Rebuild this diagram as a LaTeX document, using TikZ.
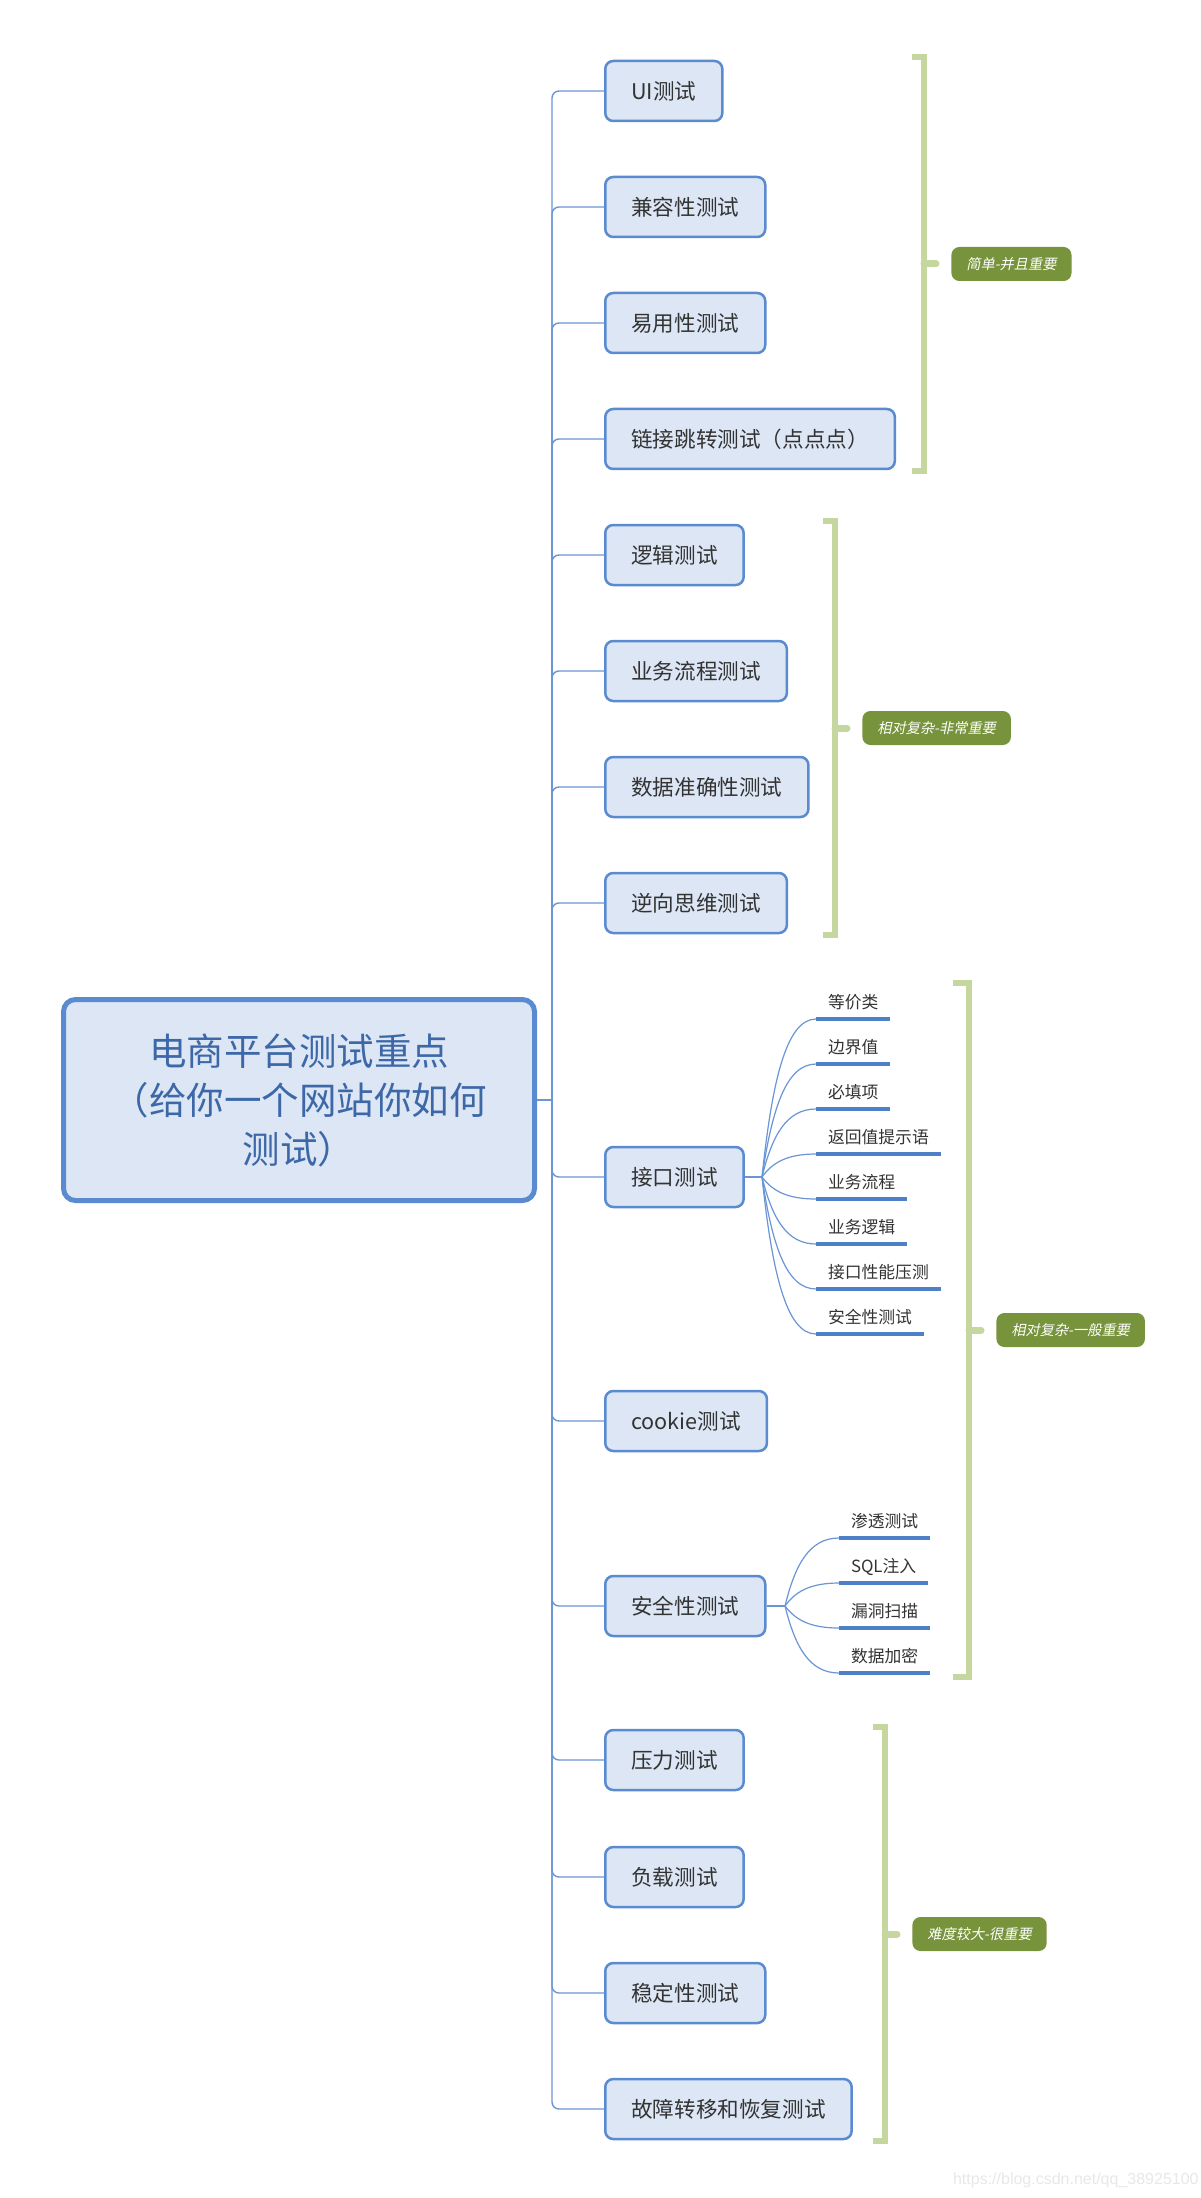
\documentclass[tikz,border=0pt]{standalone}
\usepackage{fontspec}
\setmainfont{Noto Sans CJK SC}
\newfontfamily\cjkslant[FakeSlant=0.2]{Noto Sans CJK SC}
\newfontfamily\wmfont{Liberation Sans}
\usepackage{tikz}

\definecolor{nodeblue}{HTML}{5A8AD0}
\definecolor{nodefill}{HTML}{DCE6F4}
\definecolor{lineblue}{HTML}{6A96D6}
\definecolor{ulineblue}{HTML}{4E80C8}
\definecolor{textgray}{HTML}{333333}
\definecolor{roottext}{HTML}{3D68A8}
\definecolor{bracegreen}{HTML}{C5D79E}
\definecolor{labgreen}{HTML}{77933C}

\tikzset{
    rootbox/.style={draw=nodeblue, fill=nodefill, line width=2.5pt, rounded corners=6pt,
        minimum width=235.5pt, minimum height=100.5pt, align=center, text=roottext,
        font=\fontsize{18.75}{24.5}\selectfont},
    topic/.style={draw=nodeblue, fill=nodefill, line width=1.25pt, rounded corners=4pt,
        minimum height=30pt, inner xsep=13pt, anchor=west, text=textgray,
        font=\fontsize{10.8}{13}\selectfont},
    leaf/.style={anchor=south west, inner xsep=6pt, inner ysep=5.5pt, text depth=0pt,
        outer sep=0pt, text=textgray, font=\fontsize{8.4}{10}\selectfont},
    branch/.style={draw=lineblue, line width=0.7pt, rounded corners=3.5pt},
    twig/.style={draw=lineblue, line width=0.6pt},
    uline/.style={draw=ulineblue, line width=1.65pt},
    bracketline/.style={draw=bracegreen, line width=3pt},
    bracetick/.style={draw=bracegreen, line width=3.5pt, line cap=round},
    tagbox/.style={fill=labgreen, text=white, rounded corners=4pt, minimum height=17pt,
        inner xsep=7.5pt, anchor=west, font=\cjkslant\fontsize{7.1}{8.5}\selectfont}
}

\begin{document}
\begin{tikzpicture}[x=0.5pt, y=-0.5pt]
    \path[fill=white, use as bounding box] (0,0) rectangle (1200,2198);

    \node[rootbox] (root) at (299,1100) {电商平台测试重点\\（给你一个网站你如何\\测试）};
    \coordinate (hub) at (552,1100);

    \foreach \nm/\yy/\tx in {ui/91/UI测试, compat/207/兼容性测试, usab/323/易用性测试,
        link/439/链接跳转测试（点点点）, logic/555/逻辑测试, flow/671/业务流程测试,
        datacc/787/数据准确性测试, reverse/903/逆向思维测试, api/1177/接口测试,
        cookie/1421/cookie测试, sec/1606/安全性测试, stress/1760/压力测试,
        load/1877/负载测试, stab/1993/稳定性测试, failover/2109/故障转移和恢复测试}
        \node[topic] (\nm) at (604,\yy) {\tx};

    \draw[branch] (root.east) -- (hub);
    \foreach \nm in {ui,compat,usab,link,logic,flow,datacc,reverse,api,cookie,sec,stress,load,stab,failover}
        \draw[branch] (hub) |- (\nm.west);

    \coordinate (apifork) at (762,1177);
    \draw[twig] (api.east) -- (apifork);
    \foreach \nm/\yy/\tx in {a1/1019/等价类, a2/1064/边界值, a3/1109/必填项, a4/1154/返回值提示语,
        a5/1199/业务流程, a6/1244/业务逻辑, a7/1289/接口性能压测, a8/1334/安全性测试} {
        \node[leaf] (\nm) at (816,\yy) {\tx};
        \draw[uline] (\nm.south west) -- (\nm.south east);
        \draw[twig] (apifork) .. controls ({772},{1177+0.6*(\yy-1177)}) and ({786},{\yy}) .. (\nm.south west);
    }

    \coordinate (secfork) at (785,1606);
    \draw[twig] (sec.east) -- (secfork);
    \foreach \nm/\yy/\tx in {s1/1538/渗透测试, s2/1583/SQL注入, s3/1628/漏洞扫描, s4/1673/数据加密} {
        \node[leaf] (\nm) at (839,\yy) {\tx};
        \draw[uline] (\nm.south west) -- (\nm.south east);
        \draw[twig] (secfork) .. controls ({795},{1606+0.6*(\yy-1606)}) and ({809},{\yy}) .. (\nm.south west);
    }

    \draw[bracketline] (912,57) -- (924,57) -- (924,471) -- (912,471);
    \coordinate (br1) at (924,264);
    \node[tagbox] (tag1) at (951,264) {简单-并且重要};
    \draw[bracetick] (br1) -- ([xshift=-7.5pt]tag1.west);

    \draw[bracketline] (823,521) -- (835,521) -- (835,935) -- (823,935);
    \coordinate (br2) at (835,728);
    \node[tagbox] (tag2) at (862,728) {相对复杂-非常重要};
    \draw[bracetick] (br2) -- ([xshift=-7.5pt]tag2.west);

    \draw[bracketline] (953,983) -- (969,983) -- (969,1677) -- (953,1677);
    \coordinate (br3) at (969,1330);
    \node[tagbox] (tag3) at (996,1330) {相对复杂-一般重要};
    \draw[bracetick] (br3) -- ([xshift=-7.5pt]tag3.west);

    \draw[bracketline] (873,1727) -- (885,1727) -- (885,2141) -- (873,2141);
    \coordinate (br4) at (885,1934);
    \node[tagbox] (tag4) at (912,1934) {难度较大-很重要};
    \draw[bracetick] (br4) -- ([xshift=-7.5pt]tag4.west);

    \node[anchor=west, text=black!9, font=\wmfont\fontsize{8}{9}\selectfont] (wm) at (946,2180) {https://blog.csdn.net/qq\_38925100};
\end{tikzpicture}
\end{document}
